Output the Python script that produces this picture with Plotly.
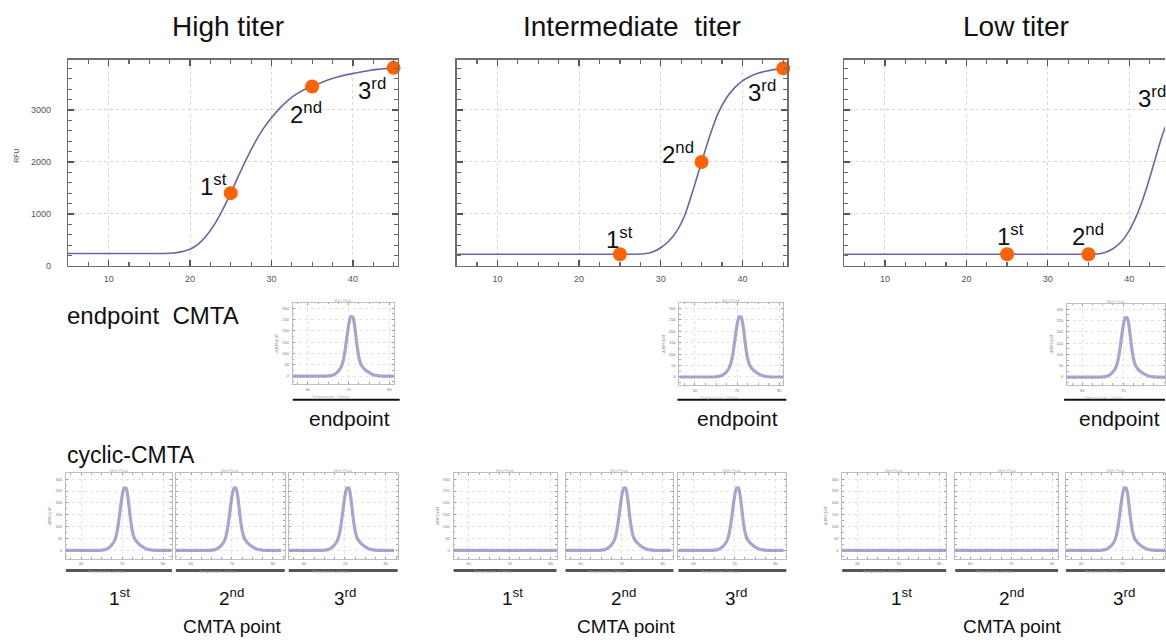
import plotly.graph_objects as go

W, H = 1166, 643
FONT = "Liberation Sans, Arial, sans-serif"

# ---------------- data ----------------
cycles = list(range(5, 46))
high_rfu = [240, 240, 240, 240, 240, 240, 240, 240, 240, 240, 240, 240, 240,
            250, 275, 320, 420, 580, 800, 1080, 1400, 1750, 2080, 2380, 2640, 2850,
            3030, 3180, 3300, 3390, 3450, 3520, 3580, 3630, 3670, 3700, 3730, 3760,
            3780, 3795, 3810]
intermediate_rfu = [225, 225, 225, 225, 225, 225, 225, 225, 225, 225, 225, 225,
                    225, 225, 225, 225, 225, 225, 225, 225, 225, 225, 225,
                    235, 270, 350, 480, 680, 1000, 1480, 2000, 2500, 2930, 3220,
                    3420, 3560, 3650, 3710, 3750, 3780, 3800]
low_rfu = [225, 225, 225, 225, 225, 225, 225, 225, 225, 225, 225, 225, 225, 225,
           225, 225, 225, 225, 225, 225, 225, 225, 225, 225, 225, 225, 225, 225,
           225, 225, 225,
           230, 260, 330, 460, 680, 1000, 1430, 1950, 2480, 2900]

point_cycles = [25, 35, 45]
high_points = [1400, 3450, 3810]
intermediate_points = [225, 2000, 3800]
low_points = [225, 225, 2900]
ordinals = ["1<sup>st</sup>", "2<sup>nd</sup>", "3<sup>rd</sup>"]
panel_titles = ["High titer", "Intermediate\u00a0\u00a0titer", "Low titer"]

melt_temp = [56, 58, 60, 62, 64, 65, 66, 67, 68, 68.5, 69, 69.5, 70, 70.5, 71,
             71.5, 72, 72.5, 73, 73.5, 74, 75, 76, 77, 78, 80, 82]
melt_peak = [0, 0, 0, 0, 0, 1, 4, 14, 35, 58, 100, 165, 228, 263, 262,
             215, 140, 82, 52, 38, 28, 15, 6, 2, 0, 0, 0]
melt_flat = [0, 0, 0, 0, 0, 0, 0, 0, 0, 0, 0, 0, 0, 0, 0,
             0, 0, 0, 0, 0, 0, 0, 0, 0, 0, 0, 0]

# which cyclic insets show a peak (True) or stay flat (False)
cyclic_has_peak = [[True, True, True], [False, True, True], [False, False, True]]

# ---------------- helpers ----------------
fig = go.Figure()
layout = {}
annotations = []
shapes = []
counter = [0]


def fx(p):
    return p / W


def fy(p):
    return 1 - p / H


def new_axes(x0, x1, y0, y1, xcfg, ycfg):
    counter[0] += 1
    i = counter[0]
    sfx = "" if i == 1 else str(i)
    xc = dict(domain=[fx(x0), min(1.0, fx(x1))], anchor="y" + sfx)
    xc.update(xcfg)
    yc = dict(domain=[fy(y1), fy(y0)], anchor="x" + sfx)
    yc.update(ycfg)
    layout["xaxis" + sfx] = xc
    layout["yaxis" + sfx] = yc
    return "x" + sfx, "y" + sfx


def text(x, y, s, size, color="#111", xanchor="center", angle=0):
    annotations.append(dict(x=fx(x), y=fy(y), xref="paper", yref="paper", text=s,
                            showarrow=False, xanchor=xanchor, yanchor="middle",
                            textangle=angle,
                            font=dict(size=size, color=color, family=FONT)))


# ---------------- main amplification charts ----------------
main_x = [(68, 398), (457, 788), (845, 1166)]
main_range_right = [45.5, 45.5, 44.4]
main_y = (60, 268)
curves = [high_rfu, intermediate_rfu, low_rfu]
points = [high_points, intermediate_points, low_points]
label_pos = [
    [(22.9, 1565), (34.3, 2940), (42.4, 3400)],
    [(24.9, 534), (32.1, 2175), (42.4, 3360)],
    [(25.4, 590), (35.0, 590), (42.8, 3240)],
]
title_x = [228, 633, 1017]

for k in range(3):
    xcfg = dict(range=[5, main_range_right[k]], showline=True, linecolor="#6e6e6e",
                linewidth=1.2, mirror="allticks", ticks="inside", ticklen=6,
                tickcolor="#555", tickwidth=1.3, tick0=0, dtick=10,
                tickfont=dict(size=9, color="#555", family=FONT),
                showgrid=True, gridcolor="#d6d6d6", griddash="dot", gridwidth=1,
                zeroline=False, ticklabelstandoff=4,
                minor=dict(dtick=2.5, tick0=0, ticks="inside", ticklen=4,
                           tickcolor="#666", tickwidth=1.2, showgrid=False))
    ycfg = dict(range=[0, 3970], showline=True, linecolor="#6e6e6e", linewidth=1.2,
                mirror="allticks" if k < 2 else False, ticks="inside", ticklen=6,
                tickcolor="#555", tickwidth=1.3, tick0=0, dtick=1000,
                showticklabels=(k == 0),
                tickfont=dict(size=9, color="#555", family=FONT),
                showgrid=True, gridcolor="#d6d6d6", griddash="dot", gridwidth=1,
                zeroline=False, ticklabelstandoff=14,
                minor=dict(dtick=200, tick0=0, ticks="inside", ticklen=4,
                           tickcolor="#666", tickwidth=1.2, showgrid=False))
    xa, ya = new_axes(main_x[k][0], main_x[k][1], main_y[0], main_y[1], xcfg, ycfg)
    fig.add_trace(go.Scatter(x=cycles, y=curves[k], xaxis=xa, yaxis=ya, mode="lines",
                             line=dict(color="#6666aa", width=1.6, shape="spline",
                                       smoothing=0.6),
                             hoverinfo="skip", showlegend=False))
    fig.add_trace(go.Scatter(x=point_cycles, y=points[k], xaxis=xa, yaxis=ya,
                             mode="markers", cliponaxis=False,
                             marker=dict(color="#ff6200", size=14, line=dict(width=0)),
                             hoverinfo="skip", showlegend=False))
    for j in range(3):
        lx, ly = label_pos[k][j]
        annotations.append(dict(x=lx, y=ly, xref=xa, yref=ya, text=ordinals[j],
                                showarrow=False, xanchor="center", yanchor="middle",
                                font=dict(size=24, color="#111", family=FONT)))
    text(title_x[k], 27, panel_titles[k], 28)

text(17, 157, "RFU", 7, color="#555", angle=-90)

# ---------------- inset melt-peak charts ----------------


def inset(x0, x1, y0, y1, xr, ydata, show_ylabels):
    xcfg = dict(range=xr, showline=True, linecolor="#bdbdbd", linewidth=1,
                mirror="allticks", ticks="inside", ticklen=2, tickcolor="#999",
                tick0=0, dtick=10, tickfont=dict(size=4, color="#777", family=FONT),
                showgrid=True, gridcolor="#e4e4e4", griddash="dot", zeroline=False,
                ticklabelstandoff=1,
                minor=dict(dtick=2.5, tick0=0, ticks="inside", ticklen=1.5,
                           tickcolor="#aaa", showgrid=False))
    ycfg = dict(range=[-35, 325], showline=True, linecolor="#bdbdbd", linewidth=1,
                mirror="allticks", ticks="inside", ticklen=2, tickcolor="#999",
                tick0=0, dtick=50, showticklabels=show_ylabels,
                tickfont=dict(size=4, color="#777", family=FONT),
                showgrid=True, gridcolor="#e4e4e4", griddash="dot", zeroline=False,
                ticklabelstandoff=2,
                minor=dict(dtick=25, tick0=0, ticks="inside", ticklen=1.5,
                           tickcolor="#aaa", showgrid=False))
    xa, ya = new_axes(x0, x1, y0, y1, xcfg, ycfg)
    fig.add_trace(go.Scatter(x=melt_temp, y=ydata, xaxis=xa, yaxis=ya, mode="lines",
                             line=dict(color="rgba(112,112,178,0.62)", width=3.2,
                                       shape="spline", smoothing=0.5),
                             hoverinfo="skip", showlegend=False))
    text((x0 + x1) / 2, y0 - 2.5, "Melt Peak", 4, color="#b0b0b0")
    text((x0 + x1) / 2 - 12, y1 + 13, "Temperature, Celsius", 4, color="#b0b0b0")
    if show_ylabels:
        text(x0 - 16, (y0 + y1) / 2, "-d(RFU)/dT", 4, color="#888", angle=-90)


# endpoint insets
endpoint_boxes = [(293, 394, 305, 387, [56.3, 81.0]),
                  (680, 784, 305, 388, [56.3, 81.0]),
                  (1068, 1166, 306, 388, [56.3, 80.2])]
endpoint_lines = [(293, 400), (678, 787), (1065, 1166)]
endpoint_text_x = [350, 738, 1120]
for k in range(3):
    x0, x1, y0, y1, xr = endpoint_boxes[k]
    inset(x0, x1, y0, y1, xr, melt_peak, True)
    shapes.append(dict(type="line", xref="paper", yref="paper",
                       x0=fx(endpoint_lines[k][0]), x1=fx(endpoint_lines[k][1]),
                       y0=fy(403), y1=fy(403), line=dict(color="#111", width=2)))
    text(endpoint_text_x[k], 422, "endpoint", 21)

# cyclic insets
cyclic_boxes = [
    [(66, 172), (176, 285), (289, 398)],
    [(454, 557), (566, 674), (679, 787)],
    [(843, 947), (956, 1059), (1067, 1166)],
]
ordinal_x = [[120, 232, 345], [513, 624, 737], [902, 1012, 1125]]
cmta_x = [233, 627, 1013]
for k in range(3):
    for j in range(3):
        x0, x1 = cyclic_boxes[k][j]
        right = 56.3 + (x1 - x0) / 4.1
        data = melt_peak if cyclic_has_peak[k][j] else melt_flat
        inset(x0, x1, 477, 563, [56.3, right], data, j == 0)
        shapes.append(dict(type="line", xref="paper", yref="paper",
                           x0=fx(x0), x1=fx(x1), y0=fy(575), y1=fy(575),
                           line=dict(color="#555", width=3)))
        text(ordinal_x[k][j], 602, ordinals[j], 19)
    text(cmta_x[k], 631, "CMTA point", 19)

text(65, 318, "endpoint\u00a0\u00a0CMTA", 24, xanchor="left")
text(65, 459, "cyclic-CMTA", 23, xanchor="left")

layout.update(dict(width=W, height=H, margin=dict(l=0, r=0, t=0, b=0),
                   paper_bgcolor="white", plot_bgcolor="white", showlegend=False,
                   annotations=annotations, shapes=shapes,
                   font=dict(family=FONT)))
fig.update_layout(**layout)
fig.write_html("out.html",
               config={"displayModeBar": False, "staticPlot": True},
               post_script="document.body.style.margin='0';"
                           "document.body.style.overflow='hidden';")
